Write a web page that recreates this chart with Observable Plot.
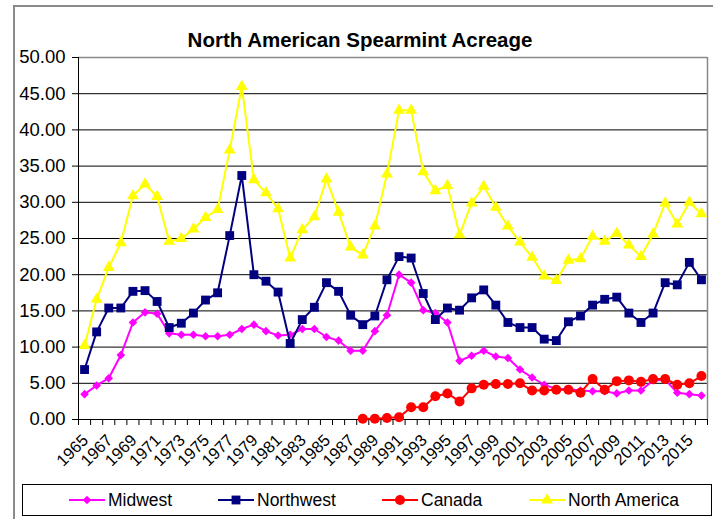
<!DOCTYPE html>
<html><head><meta charset="utf-8">
<script src="https://cdn.jsdelivr.net/npm/d3@7"></script>
<script src="https://cdn.jsdelivr.net/npm/@observablehq/plot@0.6"></script>
<style>
body{margin:0;background:#fff;font-family:"Liberation Sans",Arial,sans-serif;}
#wrap{position:relative;width:713px;height:519px;overflow:hidden;background:#fff;}
#frame{position:absolute;left:13px;top:5px;width:730px;height:560px;border:2px solid #8a8a8a;box-sizing:border-box;}
#title{position:absolute;left:0;width:720px;top:28px;text-align:center;font-weight:bold;font-size:20.5px;line-height:24px;color:#000;}
#chart{position:absolute;left:0;top:45px;}
#legend{position:absolute;left:22px;top:484px;width:690px;height:32px;border:1px solid #000;box-sizing:border-box;background:#fff;}
.item{position:absolute;top:0;height:30px;display:flex;align-items:center;font-size:17.5px;color:#000;}
.item svg{margin-right:3px;}
</style>
</head><body>
<div id="wrap">
  <div id="frame"></div>
  <div id="title">North American Spearmint Acreage</div>
  <div id="chart"></div>
  <div id="legend"></div>
</div>
<script>
const years = [1965,1966,1967,1968,1969,1970,1971,1972,1973,1974,1975,1976,1977,1978,1979,1980,1981,1982,1983,1984,1985,1986,1987,1988,1989,1990,1991,1992,1993,1994,1995,1996,1997,1998,1999,2000,2001,2002,2003,2004,2005,2006,2007,2008,2009,2010,2011,2012,2013,2014,2015,2016];
const labelYears = [1965,1967,1969,1971,1973,1975,1977,1979,1981,1983,1985,1987,1989,1991,1993,1995,1997,1999,2001,2003,2005,2007,2009,2011,2013,2015];
const yTicks = [0,5,10,15,20,25,30,35,40,45,50];

const midwest = [3.5,4.7,5.7,8.9,13.4,14.8,14.6,11.9,11.7,11.7,
  11.5,11.5,11.7,12.5,13.1,12.2,11.6,11.7,12.5,12.5,
  11.4,10.9,9.5,9.5,12.2,14.4,20.0,18.9,15.1,14.7,
  13.4,8.1,8.8,9.5,8.7,8.5,6.9,5.8,4.8,4.2,
  4.2,4.0,3.9,3.9,3.6,4.0,4.0,5.4,5.5,3.7,
  3.5,3.3];
const northwest = [6.9,12.1,15.4,15.4,17.7,17.8,16.3,12.7,13.3,14.7,
  16.5,17.5,25.4,33.7,20.0,19.1,17.6,10.5,13.8,15.5,
  18.9,17.7,14.4,13.1,14.3,19.3,22.5,22.3,17.4,13.8,
  15.4,15.1,16.8,17.9,15.8,13.4,12.7,12.7,11.1,10.9,
  13.5,14.3,15.8,16.6,16.9,14.7,13.4,14.7,18.9,18.6,
  21.7,19.3];
const canada = [null,null,null,null,null,null,null,null,null,null,
  null,null,null,null,null,null,null,null,null,null,
  null,null,null,0.1,0.1,0.2,0.3,1.7,1.7,3.2,
  3.6,2.5,4.3,4.8,4.9,4.9,5.0,4.0,4.0,4.1,
  4.1,3.7,5.6,4.1,5.3,5.4,5.2,5.6,5.6,4.8,
  5.0,6.0];
const northAmerica = [10.2,16.6,21.0,24.4,30.9,32.5,30.8,24.6,25.0,26.3,
  27.9,29.0,37.2,46.0,33.1,31.3,29.1,22.3,26.2,28.0,
  33.2,28.6,23.8,22.7,26.7,33.9,42.7,42.7,34.2,31.6,
  32.3,25.5,29.9,32.2,29.3,26.7,24.5,22.4,19.8,19.2,
  22.0,22.2,25.3,24.6,25.7,24.1,22.5,25.6,29.9,27.0,
  30.0,28.4];

const seriesNames = ["Midwest","Northwest","Canada","North America"];
const seriesValues = [midwest, northwest, canada, northAmerica];
const seriesColors = ["#FF00FF","#000080","#FF0000","#FFFF00"];
const seriesSymbols = ["diamond2","square","circle","triangle"];
const seriesR = [3.9,5.0,5.0,4.4];

const boundaries = years.map(y => y - 0.5).concat([years[years.length-1] + 0.5]);

const seriesMarks = [];
seriesNames.forEach((name, i) => {
  const data = years.map((yr, j) => ({year: yr, value: seriesValues[i][j]})).filter(d => d.value != null);
  seriesMarks.push(Plot.line(data, {x: "year", y: "value", stroke: seriesColors[i], strokeWidth: 2}));
  seriesMarks.push(Plot.dot(data, {x: "year", y: "value", symbol: seriesSymbols[i], fill: seriesColors[i], r: seriesR[i]}));
});

const chart = Plot.plot({
  width: 713, height: 434,
  marginLeft: 78, marginRight: 6, marginTop: 12, marginBottom: 60,
  style: {fontFamily: "'Liberation Sans', Arial, sans-serif", color: "#000", background: "transparent", overflow: "visible"},
  x: {domain: [boundaries[0], boundaries[boundaries.length-1]], axis: null},
  y: {domain: [0, 50], axis: null},
  symbol: {type: "identity"},
  marks: [
    Plot.ruleY(yTicks.filter(v => v < 50), {y: d => d, stroke: "#000", strokeWidth: 1}),
    Plot.ruleY([50], {stroke: "#888", strokeWidth: 1.5}),
    Plot.ruleX([boundaries[0]], {stroke: "#000"}),
    Plot.ruleX([boundaries[boundaries.length-1]], {stroke: "#888", strokeWidth: 1.5}),
    Plot.axisY(yTicks, {tickSize: 6, tickPadding: 7, tickFormat: d => d.toFixed(2), fontSize: 18.5, label: null}),
    Plot.axisX(boundaries, {tickSize: 6, tickFormat: () => "", stroke: "#000", label: null}),
    Plot.axisX(labelYears, {tickSize: 0, tickRotate: -45, tickPadding: 18, fontSize: 16.5, textAnchor: "end", dx: 1, tickFormat: d => String(d), label: null}),
    ...seriesMarks
  ]
});
document.getElementById("chart").appendChild(chart);

// legend
const legend = document.getElementById("legend");
const legendLeft = [46, 195, 359, 506];
seriesNames.forEach((name, i) => {
  const item = document.createElement("div");
  item.className = "item";
  item.style.left = legendLeft[i] + "px";
  const svg = d3.create("svg").attr("width", 36).attr("height", 14);
  svg.append("line").attr("x1", 0).attr("x2", 36).attr("y1", 7).attr("y2", 7).attr("stroke", seriesColors[i]).attr("stroke-width", 2);
  const sym = {diamond2: d3.symbolDiamond2, square: d3.symbolSquare, circle: d3.symbolCircle, triangle: d3.symbolTriangle}[seriesSymbols[i]];
  svg.append("path").attr("transform", "translate(18,7)").attr("d", d3.symbol(sym, Math.PI * seriesR[i] * seriesR[i])()).attr("fill", seriesColors[i]);
  item.appendChild(svg.node());
  const t = document.createElement("span");
  t.textContent = name;
  item.appendChild(t);
  legend.appendChild(item);
});
</script>
</body></html>
